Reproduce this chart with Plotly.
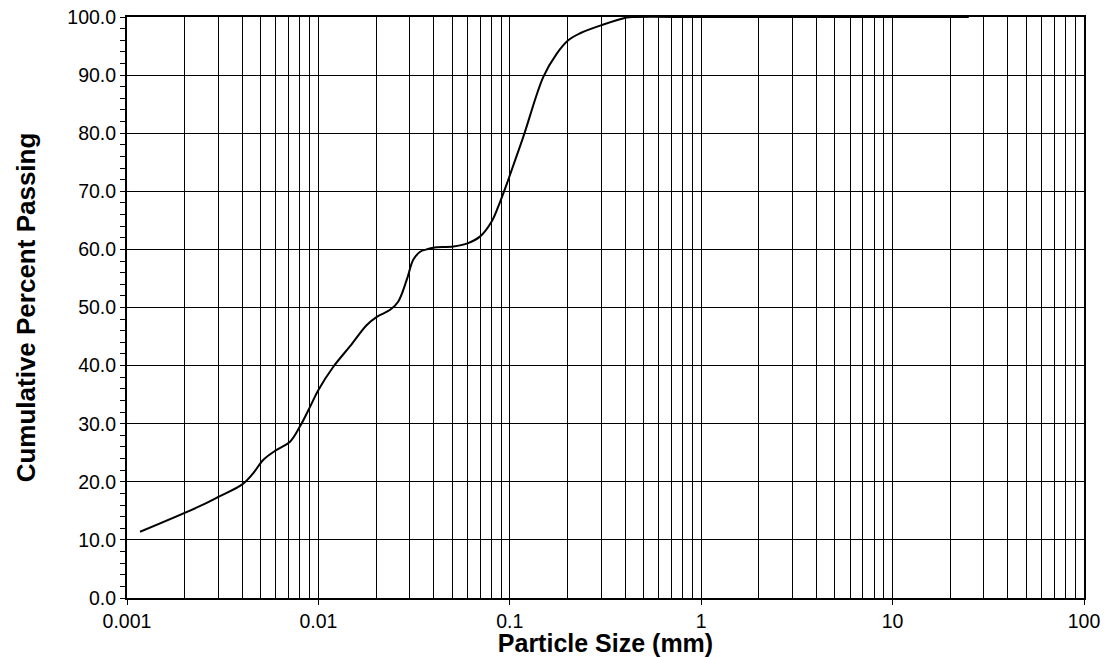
import plotly.graph_objects as go

"""Grain size distribution (read off the reference)"""
size_mm = [
    0.00117, 0.0024, 0.0030, 0.00402, 0.00457, 0.00516, 0.00605, 0.00711,
    0.0080, 0.00904, 0.0100, 0.01197, 0.0146, 0.0179, 0.0202, 0.0237,
    0.0261, 0.0289, 0.0313, 0.0340, 0.0368, 0.0398, 0.0507, 0.0596, 0.0698,
    0.0804, 0.0890, 0.098, 0.1177, 0.1497, 0.176, 0.202, 0.233, 0.302,
    0.408, 0.45, 1.0, 5.0, 25.0,
]
percent_passing = [
    11.4, 15.8, 17.4, 19.6, 21.5, 23.8, 25.5, 26.9,
    29.5, 32.9, 35.8, 39.8, 43.3, 47.0, 48.4, 49.6,
    51.0, 54.7, 58.2, 59.6, 60.0, 60.3, 60.5, 61.0, 62.2,
    64.8, 68.2, 71.9, 79.4, 89.7, 93.7, 96.0, 97.2, 98.6,
    99.9, 100.0, 100.0, 100.0, 100.0,
]

x_ticks = [0.001, 0.01, 0.1, 1, 10, 100]
x_labels = ["0.001", "0.01", "0.1", "1", "10", "100"]

font = "Liberation Sans, Arial, sans-serif"

fig = go.Figure()
fig.add_trace(
    go.Scatter(
        x=size_mm,
        y=percent_passing,
        mode="lines",
        line=dict(color="black", width=2, shape="spline", smoothing=1.0),
        showlegend=False,
        hoverinfo="x+y",
    )
)

fig.update_xaxes(
    type="log",
    range=[-3, 2],
    tickvals=x_ticks,
    ticktext=x_labels,
    ticks="outside",
    ticklen=5,
    tickcolor="black",
    tickfont=dict(family=font, size=19.5, color="black"),
    ticklabeloverflow="allow",
    showgrid=True,
    gridcolor="black",
    gridwidth=1,
    minor=dict(dtick="D1", showgrid=True, gridcolor="black", gridwidth=1, ticks=""),
    showline=True,
    linecolor="black",
    linewidth=2,
    mirror=True,
    zeroline=False,
    title=dict(
        text="<b>Particle Size (mm)</b>",
        font=dict(family=font, size=25, color="black"),
        standoff=4,
    ),
    automargin=False,
)
fig.update_yaxes(
    range=[0, 100],
    dtick=10,
    tickformat=".1f",
    ticks="outside",
    ticklen=5,
    tickcolor="black",
    tickfont=dict(family=font, size=19.5, color="black"),
    ticklabeloverflow="allow",
    showgrid=True,
    gridcolor="black",
    gridwidth=1,
    minor=dict(dtick=2, ticks="outside", ticklen=5, tickcolor="black", showgrid=False),
    showline=True,
    linecolor="black",
    linewidth=2,
    mirror=True,
    zeroline=False,
    title=dict(
        text="<b>Cumulative Percent Passing</b>",
        font=dict(family=font, size=26, color="black"),
        standoff=24,
    ),
    automargin=False,
)
# the page body adds 8px around the figure
fig.update_layout(
    width=1106,
    height=649,
    margin=dict(l=119, r=30, t=9, b=59),
    plot_bgcolor="white",
    paper_bgcolor="white",
)
fig.write_html("out.html")
